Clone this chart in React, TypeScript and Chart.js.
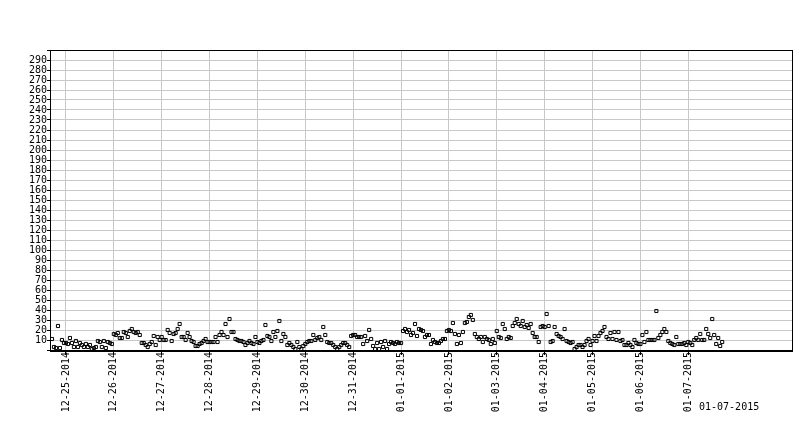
import { useEffect, useRef } from "react";
import { Chart, registerables } from "chart.js";

Chart.register(...registerables);

// Day tick labels (tick i sits at hour 24*i, hour 0 = 12-25-2014 00:00)
const dayLabels = [
  "12-25-2014", "12-26-2014", "12-27-2014", "12-28-2014", "12-29-2014",
  "12-30-2014", "12-31-2014", "01-01-2015", "01-02-2015", "01-03-2015",
  "01-04-2015", "01-05-2015", "01-06-2015", "01-07-2015",
];
const footerLabel = "01-07-2015";

// Hourly readings, first one at 12-24-2014 17:00 (hour -7)
const firstHour = -7;
const dec24 = [11, 3, 2, 24, 2, 10, 7];
const dec25 = [7, 6, 12, 7, 3, 9, 3, 7, 5, 3, 6, 3, 5, 1, 2, 3, 9, 8, 3, 9, 2, 8, 7, 6];
const dec26 = [16, 15, 17, 12, 12, 18, 17, 13, 19, 21, 18, 17, 18, 15, 7, 7, 5, 3, 6, 8, 14, 5, 13, 10];
const dec27 = [13, 10, 10, 20, 17, 9, 16, 17, 21, 26, 13, 13, 10, 17, 13, 9, 8, 4, 4, 6, 7, 9, 11, 8];
const dec28 = [8, 8, 8, 13, 8, 15, 18, 15, 26, 13, 31, 18, 18, 11, 10, 9, 9, 8, 5, 7, 9, 7, 6, 13];
const dec29 = [8, 7, 9, 10, 25, 14, 13, 9, 18, 13, 19, 29, 9, 16, 13, 5, 7, 5, 3, 1, 8, 3, 1, 4];
const dec30 = [6, 8, 9, 9, 15, 10, 12, 13, 10, 23, 15, 8, 7, 7, 5, 3, 1, 3, 5, 7, 7, 5, 3, 14];
const dec31 = [15, 15, 13, 13, 13, 6, 14, 9, 20, 11, 4, 1, 7, 1, 8, 3, 9, 1, 6, 8, 7, 6, 8, 7];
const jan01 = [7, 19, 21, 18, 20, 15, 17, 26, 14, 21, 20, 19, 13, 15, 15, 6, 10, 8, 7, 7, 9, 11, 11, 19];
const jan02 = [20, 19, 27, 16, 6, 15, 7, 18, 27, 28, 33, 35, 30, 16, 13, 11, 13, 8, 13, 11, 10, 6, 11, 7];
const jan03 = [19, 13, 12, 26, 21, 11, 13, 12, 24, 27, 31, 26, 24, 29, 23, 25, 22, 26, 17, 13, 13, 8, 23, 24];
const jan04 = [23, 36, 24, 8, 9, 23, 16, 14, 13, 11, 21, 9, 8, 7, 8, 1, 3, 5, 5, 3, 5, 9, 11, 5];
const jan05 = [9, 14, 9, 14, 17, 19, 23, 13, 11, 17, 11, 18, 10, 18, 9, 10, 5, 5, 7, 5, 3, 10, 7, 6];
const jan06 = [6, 15, 8, 18, 10, 10, 10, 10, 39, 12, 15, 18, 21, 18, 9, 7, 6, 5, 13, 6, 6, 6, 7, 5];
const jan07 = [8, 7, 5, 10, 12, 10, 16, 10, 10, 21, 16, 12, 31, 15, 6, 12, 4, 8];

const hourlyValues = [
  ...dec24, ...dec25, ...dec26, ...dec27, ...dec28, ...dec29, ...dec30,
  ...dec31, ...jan01, ...jan02, ...jan03, ...jan04, ...jan05, ...jan06, ...jan07,
];

const xMin = -8;
const xMax = 364;
const yMin = 0;
const yMax = 300;
const yStep = 10;

const FONT = { family: "'DejaVu Sans Mono', monospace", size: 10 };

const framePlugin = {
  id: "frame",
  afterDraw(chart: any) {
    const { ctx, chartArea } = chart;
    const l = Math.round(chartArea.left);
    const t = Math.round(chartArea.top);
    const r = Math.round(chartArea.right);
    const b = Math.round(chartArea.bottom);
    ctx.save();
    ctx.fillStyle = "#000";
    ctx.fillRect(l, t, r - l + 1, 1);
    ctx.fillRect(l, t, 1, b - t + 1);
    ctx.fillRect(r, t, 1, b - t + 1);
    ctx.fillRect(l, b, r - l + 1, 2);
    ctx.font = "10px 'DejaVu Sans Mono', monospace";
    ctx.textAlign = "left";
    ctx.textBaseline = "middle";
    ctx.fillText(footerLabel, 699, 407);
    ctx.restore();
  },
};

export default function App() {
  const ref = useRef<HTMLCanvasElement | null>(null);

  useEffect(() => {
    if (!ref.current) return;
    const points = hourlyValues.map((v, i) => ({ x: firstHour + i, y: v }));
    const chart = new Chart(ref.current, {
      type: "scatter",
      data: {
        datasets: [
          {
            data: points,
            pointStyle: "rect",
            pointRadius: 2.2,
            pointBorderWidth: 1,
            borderColor: "#000",
            backgroundColor: "rgba(0,0,0,0)",
            showLine: false,
          },
        ],
      },
      options: {
        animation: false,
        responsive: false,
        events: [],
        layout: { padding: { top: 50, right: 8, left: 0, bottom: 0 } },
        plugins: { legend: { display: false }, tooltip: { enabled: false }, title: { display: false } },
        scales: {
          x: {
            type: "linear",
            min: xMin,
            max: xMax,
            border: { display: false },
            grid: { color: "#c8c8c8", tickColor: "#000", tickLength: 5, lineWidth: 1 },
            afterBuildTicks: (scale: any) => {
              scale.ticks = dayLabels.map((_, i) => ({ value: i * 24 }));
            },
            ticks: {
              autoSkip: false,
              minRotation: 90,
              maxRotation: 90,
              padding: -3,
              color: "#000",
              font: FONT,
              callback: (v: any) => dayLabels[Math.round(Number(v) / 24)] ?? "",
            },
            afterFit: (scale: any) => {
              scale.height = 90;
              scale.paddingLeft = 0;
              scale.paddingRight = 0;
            },
          },
          y: {
            min: yMin,
            max: yMax,
            border: { display: false },
            grid: { color: "#c8c8c8", tickColor: "#000", tickLength: 3, lineWidth: 1 },
            ticks: {
              stepSize: yStep,
              autoSkip: false,
              padding: 0,
              color: "#000",
              font: FONT,
              callback: (v: any) => (Number(v) === yMin || Number(v) === yMax ? "" : String(v)),
            },
            afterFit: (scale: any) => {
              scale.width = 50;
              scale.paddingTop = 0;
              scale.paddingBottom = 0;
            },
          },
        },
      },
      plugins: [framePlugin],
    } as any);
    return () => chart.destroy();
  }, []);

  return (
    <div style={{ position: "fixed", left: 0, top: 0, width: 800, height: 440, background: "#fff" }}>
      <canvas ref={ref} width={800} height={440} style={{ display: "block" }} />
    </div>
  );
}
